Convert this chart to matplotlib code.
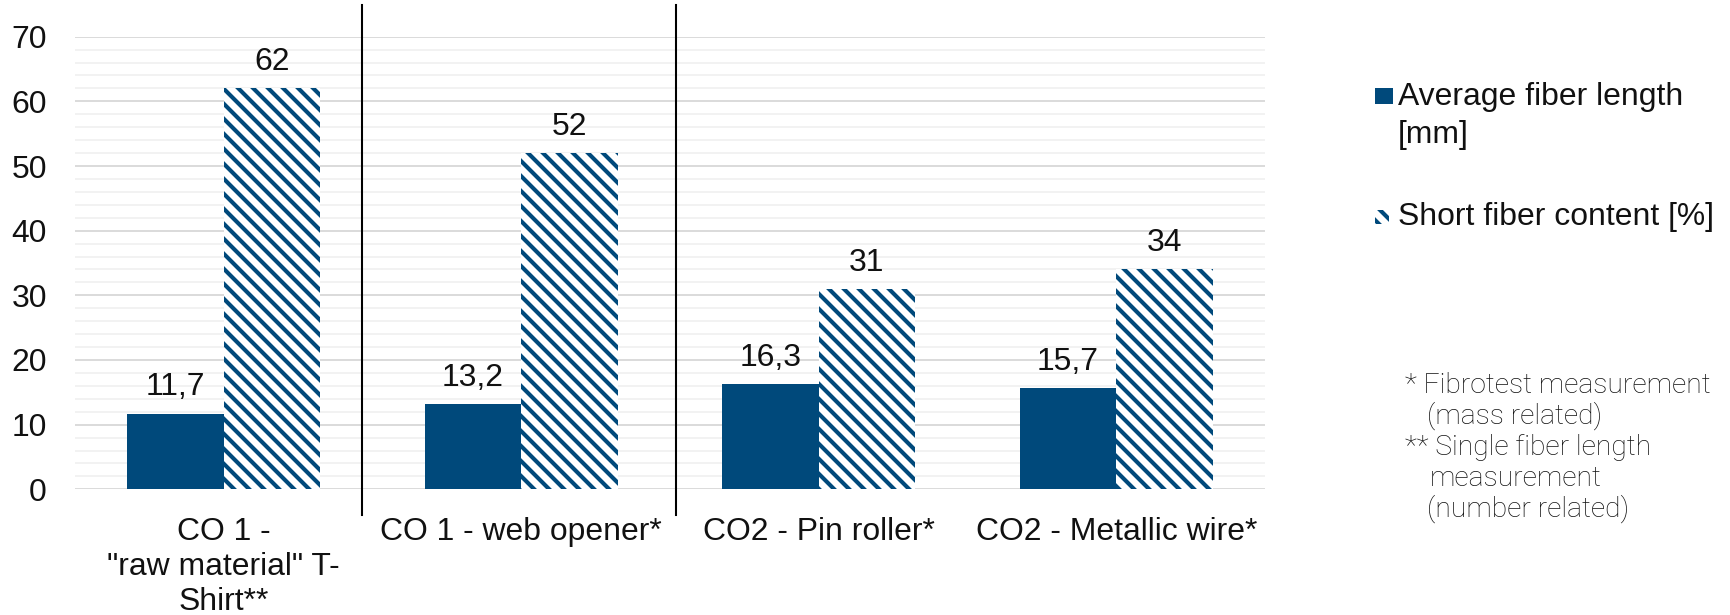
import numpy as np
import matplotlib
matplotlib.use("Agg")
import matplotlib.pyplot as plt
from matplotlib.patches import Rectangle

# --- data -------------------------------------------------------------
categories = [
    'CO 1 -\n"raw material" T-\nShirt**',
    'CO 1 - web opener*',
    'CO2 - Pin roller*',
    'CO2 - Metallic wire*',
]
avg_fiber_length = [11.7, 13.2, 16.3, 15.7]      # mm
short_fiber_content = [62, 52, 31, 34]          # %
series_names = [["Average fiber length", "[mm]"], ["Short fiber content [%]"]]
y_ticks = [0, 10, 20, 30, 40, 50, 60, 70]
note_lines = [
    (0, "* Fibrotest measurement"),
    (22, "(mass related)"),
    (0, "** Single fiber length"),
    (25, "measurement"),
    (22, "(number related)"),
]

# --- style ------------------------------------------------------------
BLUE = "#00497B"
HATCH = chr(92) * 3          # dense NW-SE stripes
DPI = 135
plt.rcParams["font.family"] = ["Liberation Sans", "DejaVu Sans"]
plt.rcParams["hatch.linewidth"] = 2.2
FS = 17
TXT = "#111111"

fig = plt.figure(figsize=(1730 / DPI, 615 / DPI), dpi=DPI)
ax = fig.add_axes([75 / 1730, 1 - 489.3 / 615, (1265 - 75) / 1730, (489.3 - 36.7) / 615])

x = np.arange(len(categories))
w = 0.324

b1 = ax.bar(x - w / 2, avg_fiber_length, width=w, color=BLUE, linewidth=0, zorder=3)
b2 = ax.bar(x + w / 2, short_fiber_content, width=w, facecolor="white",
            edgecolor=BLUE, hatch=HATCH, linewidth=0, zorder=3)

ax.bar_label(b1, labels=[f"{v:.1f}".replace(".", ",") for v in avg_fiber_length],
             padding=6, fontsize=FS, color=TXT)
ax.bar_label(b2, labels=[f"{v:.0f}" for v in short_fiber_content],
             padding=6, fontsize=FS, color=TXT)

# axes, grid
ax.set_xlim(-0.5, len(categories) - 0.5)
ax.set_ylim(0, 70)
ax.set_yticks(y_ticks)
ax.set_yticks(np.arange(0, 71, 2), minor=True)
ax.grid(axis="y", which="major", color="#d9d9d9", linewidth=1.0, zorder=0)
ax.grid(axis="y", which="minor", color="#f0f0f0", linewidth=0.9, zorder=0)
ax.set_axisbelow(True)
for s in ax.spines.values():
    s.set_visible(False)
ax.tick_params(axis="y", which="both", length=0, pad=15, labelsize=FS, labelcolor=TXT)
ax.tick_params(axis="x", which="both", length=0, pad=15, labelsize=FS, labelcolor=TXT)
ax.set_xticks(x)
ax.set_xticklabels(categories, linespacing=1.2)

# group separators
for xs in (0.466, 1.519):
    ax.axvline(xs, ymin=-0.057, ymax=1.07, color="black", linewidth=1.1, clip_on=False, zorder=4)

# legend drawn as swatches + text
def fx(px):
    return px / 1730

def fy(py):
    return 1 - py / 615

fig.add_artist(Rectangle((fx(1375), fy(104)), fx(18), 16 / 615, transform=fig.transFigure,
                         facecolor=BLUE, linewidth=0))
fig.add_artist(Rectangle((fx(1375), fy(224)), fx(14), 14 / 615, transform=fig.transFigure,
                         facecolor="white", edgecolor=BLUE, hatch=HATCH, linewidth=0))
for j, line in enumerate(series_names[0]):
    fig.text(fx(1398), fy(105 + 38 * j), line, fontsize=FS, va="baseline", ha="left", color=TXT)
fig.text(fx(1398), fy(225), series_names[1][0], fontsize=FS, va="baseline", ha="left", color=TXT)

# measurement notes
for i, (indent, line) in enumerate(note_lines):
    fig.text(fx(1405 + indent), fy(393 + 31 * i), line, fontsize=15.1,
             family=["Roboto", "DejaVu Sans"], fontweight="light",
             va="baseline", ha="left", color=TXT)

fig.savefig("out.png", dpi=DPI, facecolor="white")
